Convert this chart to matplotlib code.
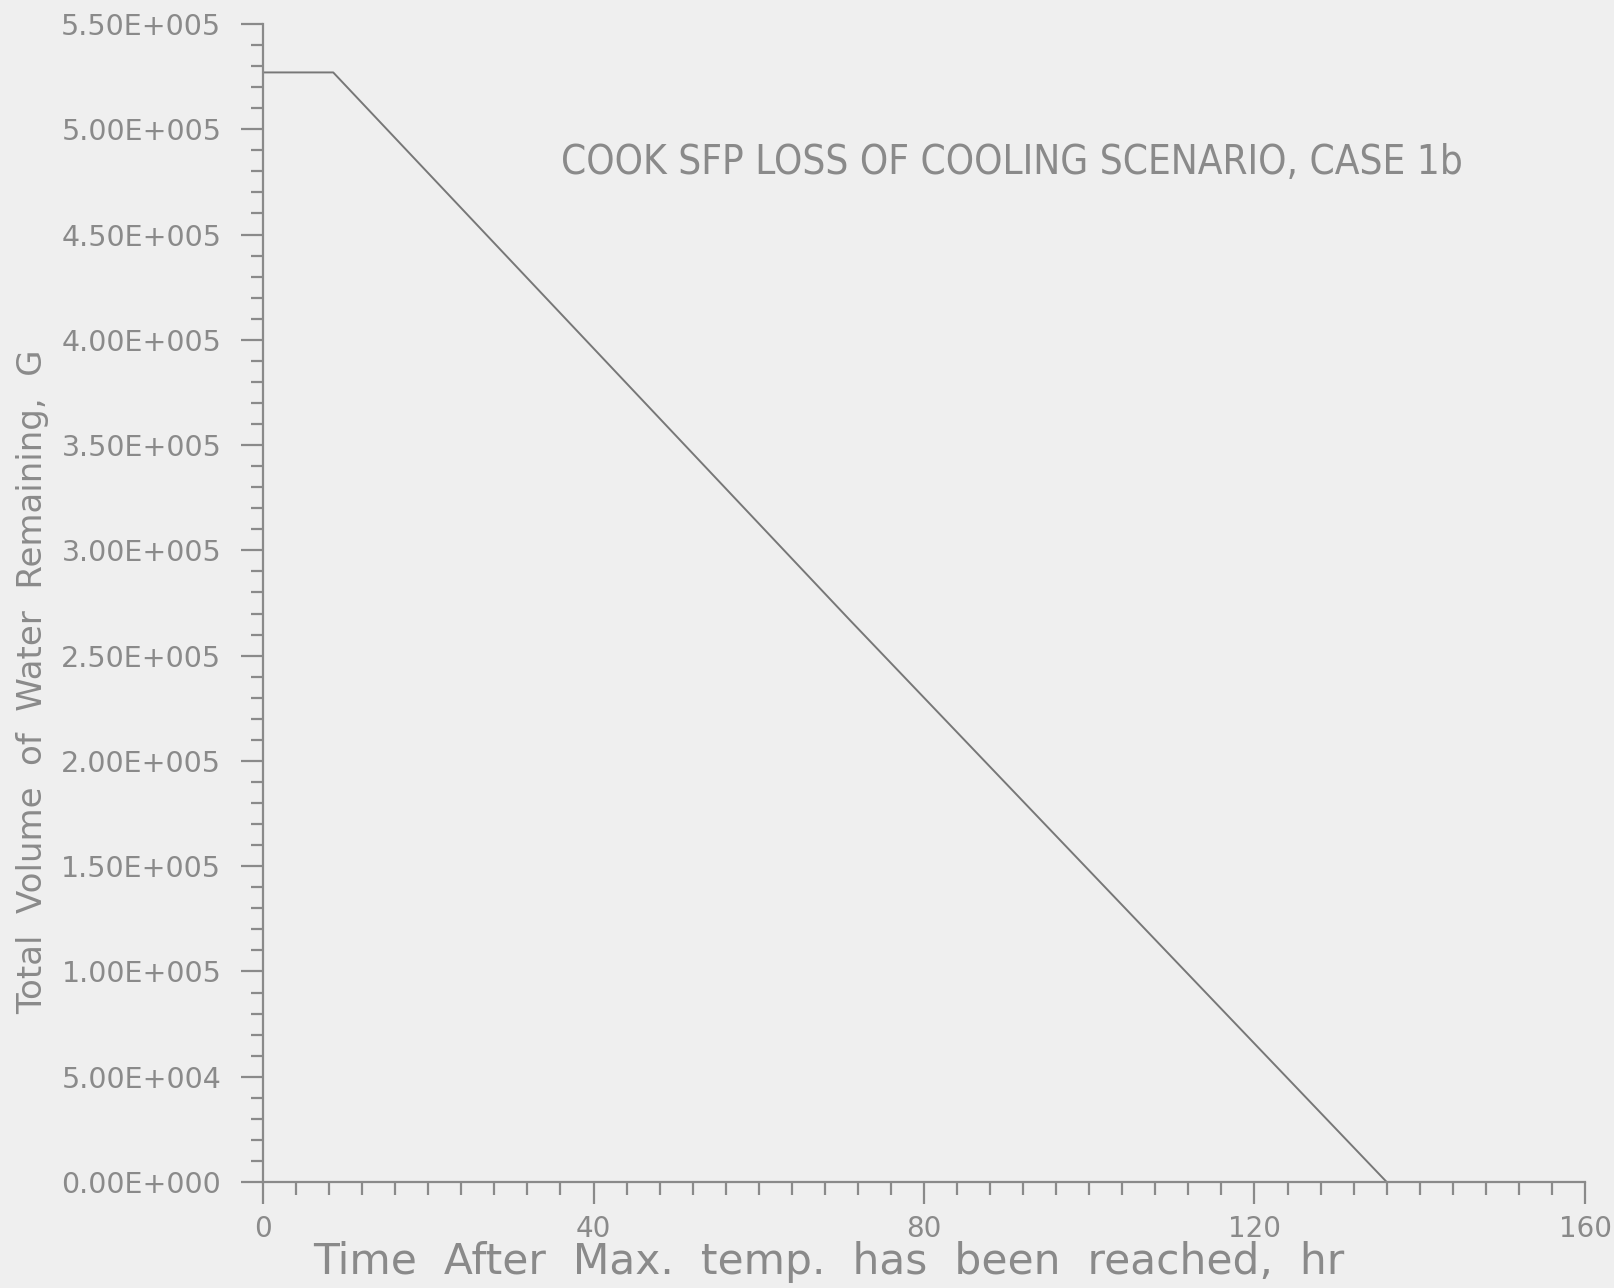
"""Cook SFP loss of cooling scenario, case 1b: water volume remaining vs time."""

import matplotlib
matplotlib.use("Agg")
import matplotlib.pyplot as plt
from matplotlib.ticker import FuncFormatter, MultipleLocator

# data
time_hr = [0.0, 8.5, 71.0, 136.0]
volume_gal = [5.27e5, 5.27e5, 2.67e5, 0.0]

title = "COOK SFP LOSS OF COOLING SCENARIO, CASE 1b"
xlabel = "Time  After  Max.  temp.  has  been  reached,  hr"
ylabel = "Total  Volume  of  Water  Remaining,  G"

BG = "#efefef"
INK = "#8a8a8a"
LINE = "#777777"


def _sci3(v, pos):
    # old plotting package style: 5.50E+005
    if v == 0:
        return "0.00E+000"
    exp = 0
    m = abs(v)
    while m >= 10:
        m /= 10
        exp += 1
    while m < 1:
        m *= 10
        exp -= 1
    sign = "-" if v < 0 else ""
    esign = "+" if exp >= 0 else "-"
    return f"{sign}{m:.2f}E{esign}{abs(exp):03d}"


fig = plt.figure(figsize=(16.15, 12.88), dpi=100, facecolor=BG)
ax = fig.add_axes([263 / 1615, 1 - 1182 / 1288, 1322 / 1615, 1158 / 1288])
ax.set_facecolor(BG)

ax.plot(time_hr, volume_gal, color=LINE, linewidth=1.4)

ax.set_xlim(0, 160)
ax.set_ylim(0, 5.5e5)
ax.xaxis.set_major_locator(MultipleLocator(40))
ax.xaxis.set_minor_locator(MultipleLocator(4))
ax.yaxis.set_major_locator(MultipleLocator(5e4))
ax.yaxis.set_minor_locator(MultipleLocator(1e4))
ax.yaxis.set_major_formatter(FuncFormatter(_sci3))

for side in ("top", "right"):
    ax.spines[side].set_visible(False)
for side in ("left", "bottom"):
    ax.spines[side].set_color(INK)
    ax.spines[side].set_linewidth(1.6)

ax.tick_params(which="major", direction="out", length=16, width=1.6,
               color=INK, labelcolor=INK)
ax.tick_params(which="minor", direction="out", length=9, width=1.6, color=INK)
ax.tick_params(axis="y", which="major", pad=14, labelsize=20.5)
ax.tick_params(axis="x", which="major", pad=8, labelsize=20)

ax.text(1012 / 1615, 1 - 163 / 1288, title, transform=fig.transFigure,
        ha="center", va="center", fontsize=29, color=INK,
        fontstretch="condensed", family="DejaVu Sans")

fig.text(829 / 1615, 1 - 1262 / 1288, xlabel, ha="center", va="center",
         fontsize=30.5, color=INK)
fig.text(33 / 1615, 1 - 682 / 1288, ylabel, ha="center", va="center",
         rotation=90, fontsize=24.5, color=INK)

fig.savefig("out.png", dpi=100, facecolor=BG)
